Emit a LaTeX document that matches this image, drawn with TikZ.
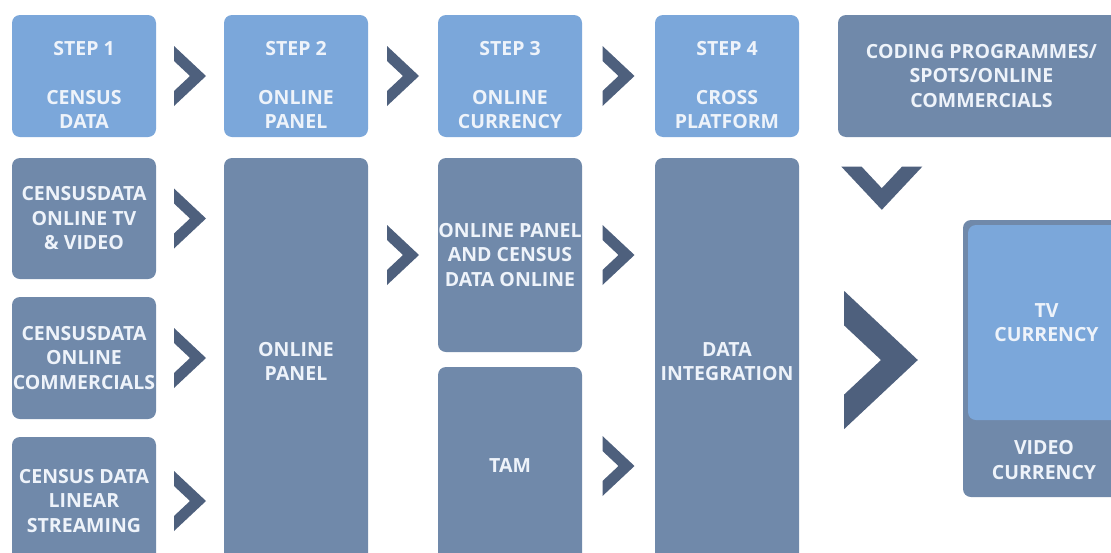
\documentclass[tikz,border=0pt]{standalone}
\usepackage{fontspec}
\setmainfont{Open Sans}
\usetikzlibrary{calc}
\definecolor{steplight}{HTML}{7BA7DA}
\definecolor{stepdark}{HTML}{7089AA}
\definecolor{chevcol}{HTML}{4E607D}
\definecolor{boxtextcol}{HTML}{EEF3FA}
\tikzset{
  boxtext/.style={text=boxtextcol, align=center, inner sep=0pt,
    font=\bfseries\fontsize{19.5}{24.5}\selectfont},
  basebox/.style={boxtext, rounded corners=8pt, minimum width=144pt},
  lightbox/.style={basebox, fill=steplight},
  darkbox/.style={basebox, fill=stepdark},
  chev/.pic={
    \fill[chevcol] (-16,-30) -- (16,0) -- (-16,30) -- (-16,15) -- (0,0) -- (-16,-15) -- cycle;
  }
}
\begin{document}
\begin{tikzpicture}[x=1pt,y=-1pt]
  \clip (0,0) rectangle (1111,552);
  \fill[white] (0,0) rectangle (1111,552);
  % Steps
  \node[lightbox, minimum height=122pt, label={[boxtext,yshift=-9pt]center:{STEP 1\\[24.5pt]CENSUS\\DATA}}] (s1) at (84,76) {};
  \node[lightbox, minimum height=122pt, label={[boxtext,yshift=-9pt]center:{STEP 2\\[24.5pt]ONLINE\\PANEL}}] (s2) at (296,76) {};
  \node[lightbox, minimum height=122pt, label={[boxtext,yshift=-9pt]center:{STEP 3\\[24.5pt]ONLINE\\CURRENCY}}] (s3) at (510,76) {};
  \node[lightbox, minimum height=122pt, label={[boxtext,yshift=-9pt]center:{STEP 4\\[24.5pt]CROSS\\PLATFORM}}] (s4) at (727,76) {};
  \node[darkbox, minimum width=287pt, minimum height=122pt] (coding) at (981.5,76) {CODING PROGRAMMES/\\SPOTS/ONLINE\\COMMERCIALS};
  % Census data sources
  \node[darkbox, minimum height=121pt] (b1) at (84,218.5) {CENSUSDATA\\ONLINE TV\\\& VIDEO};
  \node[darkbox, minimum height=122pt] (b2) at (84,358) {CENSUSDATA\\ONLINE\\COMMERCIALS};
  \node[darkbox, minimum height=128pt] (b3) at (84,501) {CENSUS DATA\\LINEAR\\STREAMING};
  % Panel, currency and integration
  \node[darkbox, minimum height=407pt] (panel) at (296,361.5) {ONLINE\\PANEL};
  \node[darkbox, minimum height=194pt] (op) at (510,255) {ONLINE PANEL\\AND CENSUS\\DATA ONLINE};
  \node[darkbox, minimum height=198pt] (tam) at (510,466) {TAM};
  \node[darkbox, minimum height=407pt] (di) at (727,361.5) {DATA\\INTEGRATION};
  % Result
  \node[darkbox, minimum width=162pt, minimum height=277pt, label={[boxtext,yshift=-101.5pt]center:{VIDEO\\CURRENCY}}] (vc) at (1044,358.5) {};
  \node[lightbox, minimum width=157pt, minimum height=195pt] (tv) at (1046.5,322.5) {TV\\CURRENCY};
  % Chevrons
  \foreach \a/\b in {s1/s2, s2/s3, s3/s4}
    \pic at ($(\a.east)!0.5!(\b.west)$) {chev};
  \foreach \a in {b1, b2, b3}
    \pic at ($(\a.east)!0.5!(\a.east -| panel.west)$) {chev};
  \pic at ($(op.west -| panel.east)!0.5!(op.west)$) {chev};
  \foreach \a in {op, tam}
    \pic at ($(\a.east)!0.5!(\a.east -| di.west)$) {chev};
  \pic[rotate=-90, scale=1.35] at ($(coding.south west)+(44,51)$) {chev};
  \pic[scale=2.3] at ($(di.east)!0.5!(vc.west)$) {chev};
\end{tikzpicture}
\end{document}
